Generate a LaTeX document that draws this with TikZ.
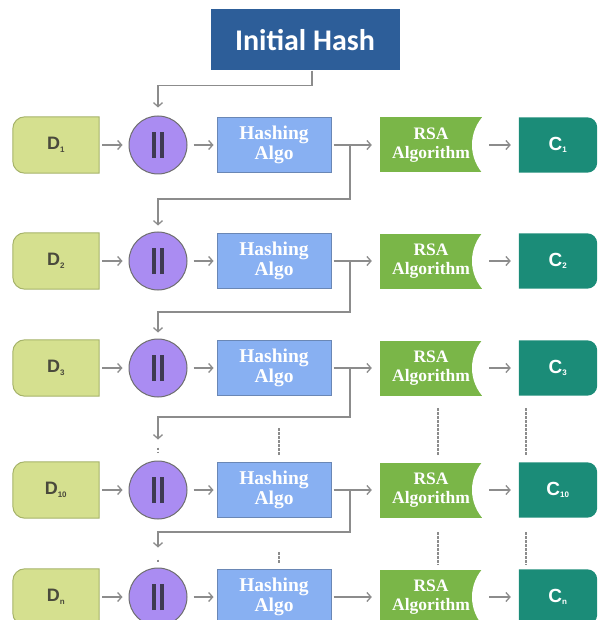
\documentclass[tikz,border=0pt]{standalone}
\usepackage{fontspec}
\setmainfont{Liberation Serif}
\newfontfamily\headfont{Carlito}
\newfontfamily\labfont{Liberation Sans}
\usetikzlibrary{arrows.meta,backgrounds}

\definecolor{headblue}{HTML}{2D5E99}
\definecolor{datgreen}{HTML}{D5E08F}
\definecolor{datline}{HTML}{A6B36A}
\definecolor{dattext}{HTML}{4A4A3C}
\definecolor{joinpurple}{HTML}{AA8CF2}
\definecolor{joinline}{HTML}{6E6E6E}
\definecolor{bardark}{HTML}{3E3A52}
\definecolor{algoblue}{HTML}{88B0F2}
\definecolor{algoline}{HTML}{6A87B5}
\definecolor{rsagreen}{HTML}{7AB648}
\definecolor{outteal}{HTML}{1B8C78}
\definecolor{linkgray}{HTML}{8C8C8C}

\tikzset{
  link/.style={draw=linkgray, line width=1.3pt, -{Straight Barb[length=4pt,width=9pt]}},
  dots/.style={draw=linkgray, line width=1.4pt, dash pattern=on 2.5pt off 1.5pt},
  headbox/.style={fill=headblue, minimum width=189pt, minimum height=61pt, inner sep=0pt,
    text=white, font=\headfont\bfseries\fontsize{30}{32}\selectfont},
  datbox/.style={minimum width=86pt, minimum height=56pt, inner sep=0pt,
    text=dattext, font=\labfont\bfseries\fontsize{18}{20}\selectfont},
  joinnode/.style={circle, fill=joinpurple, draw=joinline, line width=1pt, minimum size=58pt, inner sep=0pt},
  hashbox/.style={fill=algoblue, draw=algoline, line width=1pt, minimum width=114pt, minimum height=55pt,
    inner sep=0pt, text=white, align=center, font=\bfseries\fontsize{19.5}{20}\selectfont},
  rsabox/.style={fill=rsagreen, minimum width=102pt, minimum height=55pt, inner sep=0pt,
    text=white, align=center, font=\bfseries\fontsize{17.5}{19}\selectfont,
    path picture={\fill[white] ([xshift=32.8pt]path picture bounding box.east) circle (42.8pt);}},
  outbox/.style={minimum width=78pt, minimum height=55pt, inner sep=0pt,
    text=white, font=\labfont\bfseries\fontsize{19}{20}\selectfont},
}

\begin{document}
\begin{tikzpicture}[x=1pt, y=-1pt]
  \useasboundingbox (0,0) rectangle (598,620);

  \node[headbox] (ih) at (305,40) {Initial Hash};

  \foreach \i/\y/\s in {1/145/1, 2/261/2, 3/368/3, 4/490/10, 5/597/n} {
    \node[datbox] (d\i) at (56,\y) {D\textsubscript{\fontsize{8}{8}\selectfont\s}};
    \node[joinnode] (j\i) at (158,\y) {\color{bardark}\rule{4.5pt}{26pt}\hspace{3.5pt}\rule{4.5pt}{26pt}};
    \node[hashbox] (h\i) at (274,\y) {Hashing\\Algo};
    \node[rsabox] (r\i) at (431,\y) {RSA\\Algorithm};
    \node[outbox] (o\i) at (558,\y) {C\textsubscript{\fontsize{8}{8}\selectfont\s}};
    \coordinate (s\i) at (350,\y);
    \begin{scope}[on background layer]
      \filldraw[fill=datgreen, draw=datline, line width=1pt]
        (d\i.north east) -- ([xshift=12pt]d\i.north west) arc[start angle=90, end angle=180, radius=12pt]
        -- ([yshift=12pt]d\i.south west) arc[start angle=180, end angle=270, radius=12pt]
        -- (d\i.south east) -- cycle;
      \fill[outteal]
        (o\i.north west) -- ([xshift=-10pt]o\i.north east) arc[start angle=90, end angle=0, radius=10pt]
        -- ([yshift=10pt]o\i.south east) arc[start angle=0, end angle=-90, radius=10pt]
        -- (o\i.south west) -- cycle;
    \end{scope}
    \draw[link, shorten <=3pt, shorten >=6pt] (d\i) -- (j\i);
    \draw[link, shorten <=6pt, shorten >=3pt] (j\i) -- (h\i);
    \draw[link, shorten <=2pt, shorten >=8pt] (h\i) -- (r\i);
    \draw[link, shorten <=7pt, shorten >=8pt] (r\i) -- (o\i);
  }

  % hash chaining
  \draw[link, shorten >=8pt] ([xshift=7pt]ih.south) -- ++(0,15) -| (j1.north);
  \draw[link, shorten >=6pt] (s1) -- ++(0,54) -| (j2.north);
  \draw[link, shorten >=6pt] (s2) -- ++(0,51) -| (j3.north);
  \draw[link] (s3) -- ++(0,49) -| ([yshift=21pt]j4.north);
  \draw[link] (s4) -- ++(0,42) -| ([yshift=20pt]j5.north);
  \draw[dots] ([yshift=13pt]j4.north) -- ([yshift=8pt]j4.north);
  \draw[dots] ([yshift=8pt]j5.north) -- ([yshift=4pt]j5.north);

  % skipped rows
  \foreach \x/\a/\b in {279/428/455, 438/408/455, 526/408/455, 279/552/563, 438/532/565, 526/532/565}
    \draw[dots] (\x,\a) -- (\x,\b);
\end{tikzpicture}
\end{document}
